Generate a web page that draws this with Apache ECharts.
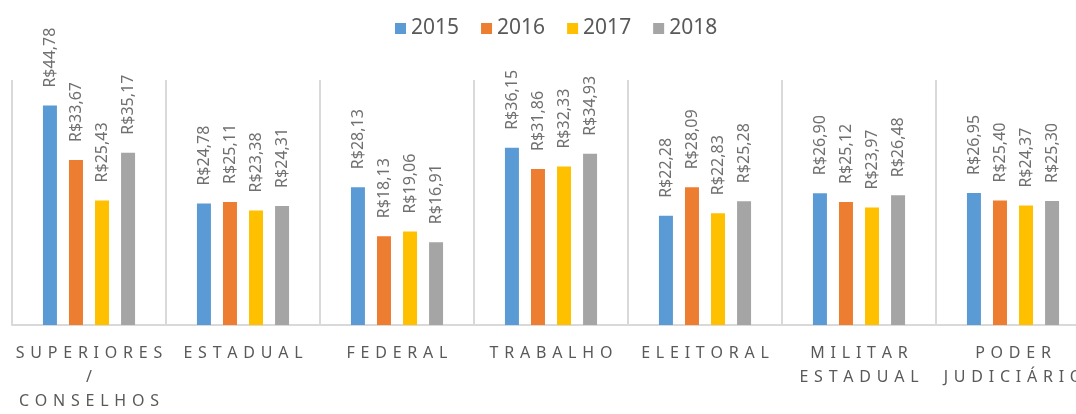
<!DOCTYPE html>
<html>
<head>
<meta charset="utf-8">
<script src="https://cdn.jsdelivr.net/npm/echarts@6/dist/echarts.min.js"></script>
<style>
  html, body { margin: 0; padding: 0; background: #fff; }
  #chart { width: 1076px; height: 414px; }
</style>
</head>
<body>
<div id="chart"></div>
<script>
// categorias (eixo x) e valores por ano
const categorias = ['SUPERIORES / CONSELHOS', 'ESTADUAL', 'FEDERAL', 'TRABALHO', 'ELEITORAL', 'MILITAR ESTADUAL', 'PODER JUDICIÁRIO'];
const anos = ['2015', '2016', '2017', '2018'];
const cores = ['#5B9BD5', '#ED7D31', '#FFC000', '#A5A5A5'];

const v2015 = [44.78, 24.78, 28.13, 36.15, 22.28, 26.90, 26.95];
const v2016 = [33.67, 25.11, 18.13, 31.86, 28.09, 25.12, 25.40];
const v2017 = [25.43, 23.38, 19.06, 32.33, 22.83, 23.97, 24.37];
const v2018 = [35.17, 24.31, 16.91, 34.93, 25.28, 26.48, 25.30];
const valores = [v2015, v2016, v2017, v2018];

const FONTE = '"Noto Sans", "DejaVu Sans", sans-serif';

// espaçamento entre letras, uma palavra por linha
function espacar(txt) {
    return txt.split(' ').map(p => p.split('').join(' \u200A')).join('\n');
}

const chart = echarts.init(document.getElementById('chart'));

chart.setOption({
    animation: false,
    textStyle: { fontFamily: FONTE },
    legend: {
        top: 13,
        left: 390,
        itemWidth: 11,
        itemHeight: 11,
        itemGap: 22,
        icon: 'rect',
        textStyle: { fontSize: 21, color: '#595959', fontFamily: FONTE },
        data: anos
    },
    grid: { left: 12, top: 80, width: 1078, height: 245, outerBoundsMode: 'none', containLabel: false },
    xAxis: {
        type: 'category',
        data: categorias,
        axisLine: { lineStyle: { color: '#D9D9D9', width: 2 } },
        axisTick: { show: false },
        splitLine: { show: true, lineStyle: { color: '#D9D9D9', width: 2 } },
        axisLabel: {
            interval: 0,
            margin: 16,
            fontSize: 16,
            lineHeight: 24,
            color: '#595959',
            fontFamily: FONTE,
            formatter: v => espacar(v)
        }
    },
    yAxis: { type: 'value', min: 0, max: 50, show: false, splitLine: { show: false } },
    series: anos.map((ano, i) => ({
        name: ano,
        type: 'bar',
        data: valores[i],
        barWidth: 14,
        barGap: '86%',
        itemStyle: { color: cores[i] },
        label: {
            show: true,
            position: 'top',
            rotate: 90,
            align: 'left',
            verticalAlign: 'middle',
            distance: 18,
            fontSize: 16,
            color: '#707070',
            fontFamily: FONTE,
            formatter: p => 'R$' + p.value.toFixed(2).replace('.', ',')
        }
    }))
});
</script>
</body>
</html>
